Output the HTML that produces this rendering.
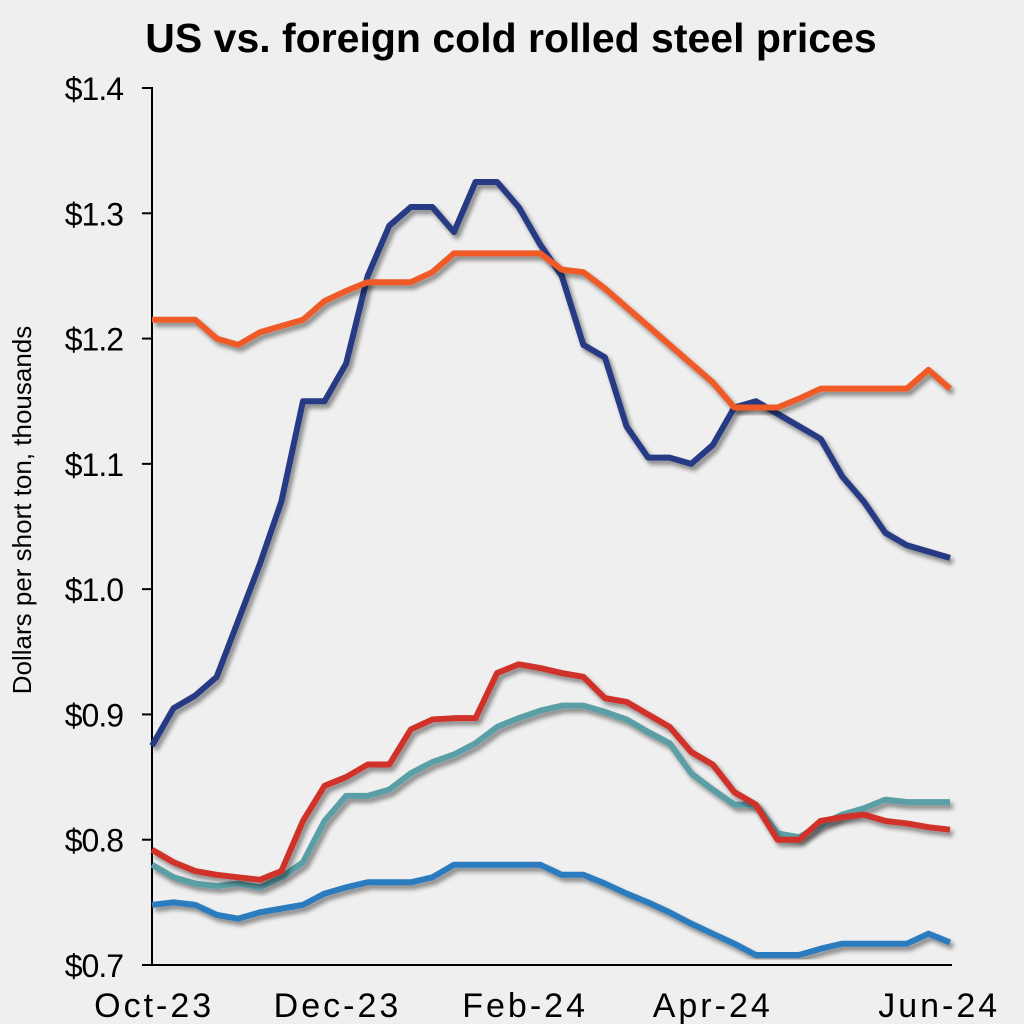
<!DOCTYPE html>
<html><head><meta charset="utf-8"><style>
body{margin:0;background:#fff;}
#c{width:1024px;height:1024px;background:#efefef;position:relative;font-family:"Liberation Sans",sans-serif;}
</style></head><body>
<div id="c">
<svg id="s" width="1024" height="1024">
<defs><filter id="sh" x="-5%" y="-5%" width="110%" height="110%"><feGaussianBlur in="SourceAlpha" stdDeviation="2.5"/><feOffset dx="3" dy="4"/><feComponentTransfer><feFuncA type="linear" slope="0.45"/></feComponentTransfer><feMerge><feMergeNode/><feMergeNode in="SourceGraphic"/></feMerge></filter></defs>
<text x="511" y="52" text-anchor="middle" font-size="41" font-weight="bold" fill="#000">US vs. foreign cold rolled steel prices</text>
<text transform="translate(31,510) rotate(-90)" text-anchor="middle" font-size="26" fill="#000">Dollars per short ton, thousands</text>
<line x1="152" y1="87" x2="152" y2="966" stroke="#000" stroke-width="2"/>
<line x1="142" y1="965" x2="952" y2="965" stroke="#000" stroke-width="2"/>
<g id="ticks"></g><g id="lines"></g>
</svg></div>
<script>
const yTicks=[0.7,0.8,0.9,1.0,1.1,1.2,1.4,1.3];
const yTickLabels=["$0.7","$0.8","$0.9","$1.0","$1.1","$1.2","$1.4","$1.3"];
const xLabels=["Oct-23","Dec-23","Feb-24","Apr-24","Jun-24"];
const xLabelIdx=[0.1,8.6,17.3,26,36.5];
const navy=[0.875,0.905,0.915,0.93,0.975,1.02,1.07,1.15,1.15,1.18,1.25,1.29,1.305,1.305,1.285,1.325,1.325,1.305,1.275,1.25,1.195,1.185,1.13,1.105,1.105,1.10,1.115,1.145,1.15,1.14,1.13,1.12,1.09,1.07,1.045,1.035,1.03,1.025];
const orange=[1.215,1.215,1.215,1.2,1.195,1.205,1.21,1.215,1.23,1.238,1.245,1.245,1.245,1.253,1.268,1.268,1.268,1.268,1.268,1.255,1.253,1.24,1.225,1.21,1.195,1.18,1.165,1.145,1.145,1.145,1.152,1.16,1.16,1.16,1.16,1.16,1.175,1.16];
const red=[0.792,0.782,0.775,0.772,0.77,0.768,0.775,0.815,0.843,0.85,0.86,0.86,0.888,0.896,0.897,0.897,0.933,0.94,0.937,0.933,0.93,0.913,0.91,0.9,0.89,0.87,0.86,0.838,0.828,0.8,0.8,0.815,0.818,0.82,0.815,0.813,0.81,0.808];
const teal=[0.78,0.77,0.765,0.763,0.765,0.762,0.77,0.782,0.815,0.835,0.835,0.84,0.853,0.862,0.868,0.877,0.89,0.897,0.903,0.907,0.907,0.902,0.896,0.886,0.877,0.853,0.84,0.828,0.828,0.805,0.802,0.812,0.82,0.825,0.832,0.83,0.83,0.83];
const blue=[0.748,0.75,0.748,0.74,0.737,0.742,0.745,0.748,0.757,0.762,0.766,0.766,0.766,0.77,0.78,0.78,0.78,0.78,0.78,0.772,0.772,0.765,0.757,0.75,0.742,0.733,0.725,0.717,0.708,0.708,0.708,0.713,0.717,0.717,0.717,0.717,0.725,0.718];
const ns="http://www.w3.org/2000/svg";
const N=navy.length;
function xs(i){return 152+i*(950-152)/(N-1);}
function ys(v){return 965-(v-0.7)/0.7*877;}
const tg=document.getElementById('ticks');
yTicks.forEach((t,k)=>{
 const l=document.createElementNS(ns,'line');
 l.setAttribute('x1',142);l.setAttribute('x2',152);l.setAttribute('y1',ys(t));l.setAttribute('y2',ys(t));l.setAttribute('stroke','#000');l.setAttribute('stroke-width','2');
 
 
 tg.appendChild(l);
 const tx=document.createElementNS(ns,'text');
 tx.setAttribute('x',123);tx.setAttribute('y',ys(t)+12);tx.setAttribute('text-anchor','end');tx.setAttribute('font-size','32');tx.setAttribute('letter-spacing','-1');
 tx.textContent=yTickLabels[k];
 
 
 tg.appendChild(tx);
});
xLabels.forEach((s,k)=>{
 const tx=document.createElementNS(ns,'text');
 tx.setAttribute('x',Math.min(xs(xLabelIdx[k]),940));tx.setAttribute('y',1017);tx.setAttribute('text-anchor','middle');tx.setAttribute('font-size','34');tx.setAttribute('letter-spacing','3');
 tx.textContent=s;
 
 
 tg.appendChild(tx);
});
const series=[[navy,'#283a83','series-navy'],[orange,'#f05a28','series-orange'],[teal,'#5a9ea6','series-teal'],[red,'#d0332a','series-red'],[blue,'#2b7bbf','series-blue']];
const lg=document.getElementById('lines');
series.forEach(([d,c,n])=>{
 const p=document.createElementNS(ns,'polyline');
 p.setAttribute('points',d.map((v,i)=>xs(i)+','+ys(v)).join(' '));
 p.setAttribute('fill','none');p.setAttribute('stroke',c);p.setAttribute('stroke-width','6');p.setAttribute('stroke-linejoin','round');p.setAttribute('filter','url(#sh)');
 
 
 lg.appendChild(p);
});
</script>
</body></html>
